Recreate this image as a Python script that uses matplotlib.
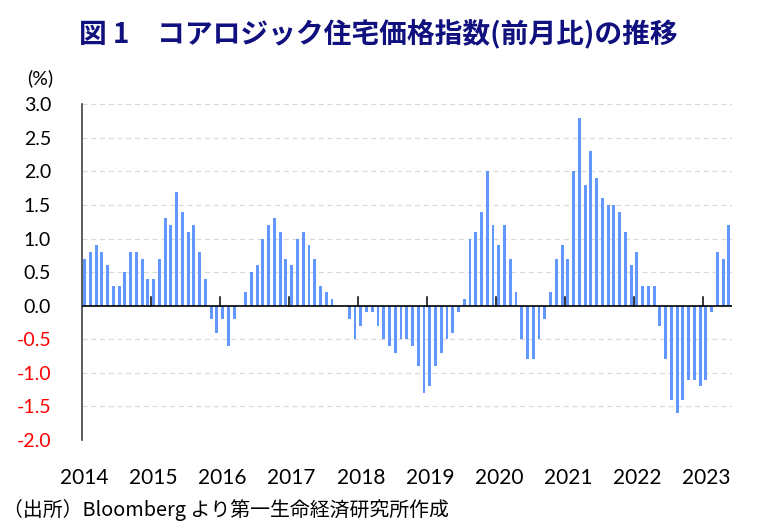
import numpy as np
import matplotlib.pyplot as plt

plt.rcParams['font.family'] = ['Lato', 'Noto Sans CJK JP', 'DejaVu Sans']

# CoreLogic home price index, month-on-month change (%), Jan 2014 - May 2023
mom_change = [
    0.7, 0.8, 0.9, 0.8, 0.6, 0.3, 0.3, 0.5, 0.8, 0.8, 0.7, 0.4,       # 2014
    0.4, 0.7, 1.3, 1.2, 1.7, 1.4, 1.1, 1.2, 0.8, 0.4, -0.2, -0.4,     # 2015
    -0.2, -0.6, -0.2, 0.0, 0.2, 0.5, 0.6, 1.0, 1.2, 1.3, 1.1, 0.7,    # 2016
    0.6, 1.0, 1.1, 0.9, 0.7, 0.3, 0.2, 0.1, 0.0, 0.0, -0.2, -0.5,     # 2017
    -0.3, -0.1, -0.1, -0.3, -0.5, -0.6, -0.7, -0.5, -0.5, -0.6, -0.9, -1.3,  # 2018
    -1.2, -0.9, -0.7, -0.5, -0.4, -0.1, 0.1, 1.0, 1.1, 1.4, 2.0, 1.2,  # 2019
    0.9, 1.2, 0.7, 0.2, -0.5, -0.8, -0.8, -0.5, -0.2, 0.2, 0.7, 0.9,  # 2020
    0.7, 2.0, 2.8, 1.8, 2.3, 1.9, 1.6, 1.5, 1.5, 1.4, 1.1, 0.6,       # 2021
    0.8, 0.3, 0.3, 0.3, -0.3, -0.8, -1.4, -1.6, -1.4, -1.1, -1.1, -1.2,  # 2022
    -1.1, -0.1, 0.8, 0.7, 1.2,                                          # 2023
]
years = list(range(2014, 2024))
ytick_values = [3.0, 2.5, 2.0, 1.5, 1.0, 0.5, 0.0, -0.5, -1.0, -1.5, -2.0]

months = np.arange(len(mom_change))

fig = plt.figure(figsize=(7.58, 5.29), dpi=100)
ax = fig.add_axes([0.1078, 0.1682, 0.8576, 0.6346])

ax.bar(months, mom_change, width=0.5, color='#6297fd', zorder=3)

ax.set_xlim(-0.5, len(mom_change) - 0.5)
ax.set_ylim(-2.0, 3.0)

# dashed grid, solid zero line
for v in ytick_values:
    if v != 0:
        ax.axhline(v, color='#d9d9d9', lw=0.9, ls=(0, (4, 3)), zorder=1)
ax.axhline(0, color='black', lw=1.2, zorder=4)

# year boundary tick marks on the zero line
for k in range(1, len(years)):
    ax.plot([12 * k - 0.5, 12 * k - 0.5], [0, 0.13], color='black', lw=1.1, zorder=4)

for s in ['top', 'right', 'bottom']:
    ax.spines[s].set_visible(False)
ax.spines['left'].set_color('#404040')
ax.spines['left'].set_linewidth(1.2)

ax.set_yticks(ytick_values)
ax.set_yticklabels([f'{v:.1f}' for v in ytick_values], fontsize=14)
for lbl, v in zip(ax.get_yticklabels(), ytick_values):
    lbl.set_color('red' if v < 0 else 'black')
ax.tick_params(axis='y', length=0, pad=22)

ax.set_xticks([12 * i for i in range(len(years))])
ax.set_xticklabels([str(y) for y in years], fontsize=15)
ax.tick_params(axis='x', length=0, pad=20)

fig.text(0.053, 0.853, '(%)', fontsize=14, ha='center', va='center')

fig.text(0.499, 0.937, '図 1\u3000コアロジック住宅価格指数(前月比)の推移',
         fontsize=20, fontweight='bold', color='#10107f', ha='center', va='center',
         family=['Noto Sans CJK JP', 'DejaVu Sans'])

fig.text(0.004, 0.035, '（出所）Bloomberg より第一生命経済研究所作成',
         fontsize=14.3, ha='left', va='center',
         family=['Noto Sans CJK JP', 'DejaVu Sans'])

plt.savefig('out.png', dpi=100)
